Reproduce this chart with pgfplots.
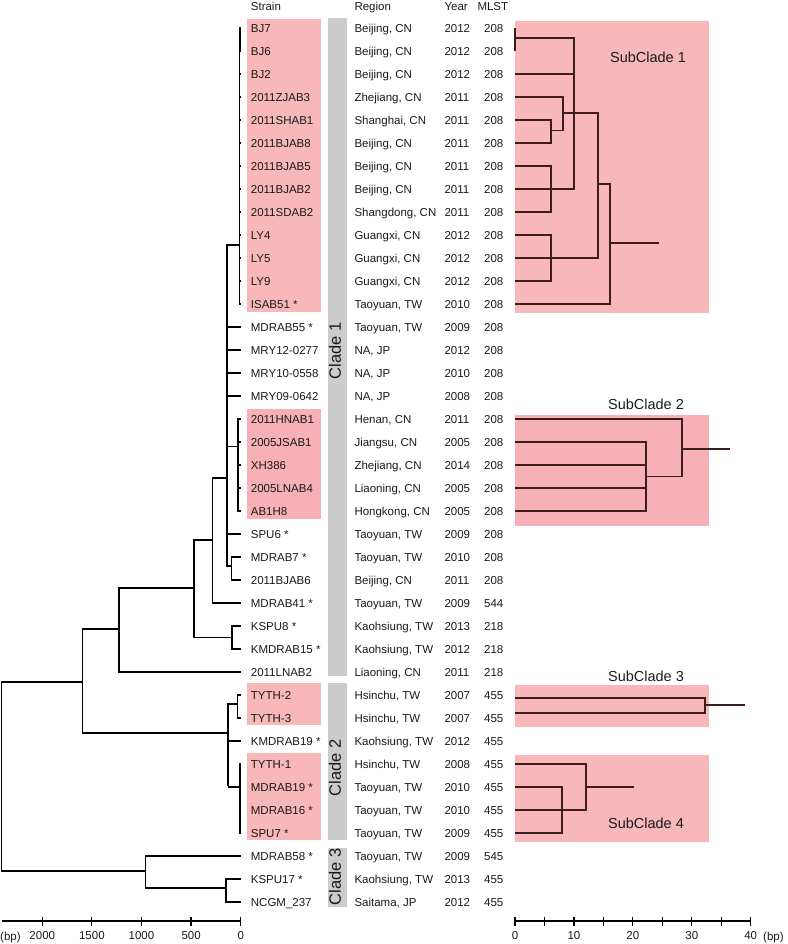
\documentclass[border=0pt]{standalone}
\usepackage{fontspec}
\setmainfont{Liberation Sans}
\usepackage{pgfplots}
\pgfplotsset{compat=1.18}
\definecolor{pinkc}{HTML}{F8B8BA}
\definecolor{pinkd}{HTML}{F6B0B6}
\definecolor{grayc}{HTML}{CCCCCC}
\definecolor{treec}{HTML}{3C1C1C}
\definecolor{txt}{HTML}{1A1A1A}
\pgfplotsset{
  tl/.style={line width=1.6pt, black, no marks, unbounded coords=jump},
  tr/.style={line width=1.8pt, treec, no marks, unbounded coords=jump},
  treeaxis/.style={scale only axis, height=916pt, ymin=-38.83, ymax=1,
    axis x line*=bottom, axis y line=none, tick align=center,
    major tick length=9pt, every tick/.style={black, line width=1.2pt},
    axis line style={line width=1.2pt, black}, clip=false,
    xticklabel style={font=\fontsize{11.5pt}{13pt}\selectfont, text=txt, inner sep=0pt, anchor=base, yshift=-14pt}},
}
\begin{document}
\fontsize{11.5pt}{13pt}\selectfont
\begin{tikzpicture}
\useasboundingbox (0,0) rectangle (787pt,-944pt);

% background boxes
\begin{axis}[at={(0pt,0pt)}, anchor=north west, scale only axis, width=787pt, height=944pt,
  xmin=0, xmax=787, ymin=-944, ymax=0, hide axis, clip=false]
% left highlight boxes
\addplot[fill=pinkc, draw=none] coordinates {(247.3,-19) (321,-19) (321,-311.7) (247.3,-311.7)} -- cycle;
\addplot[fill=pinkd, draw=none] coordinates {(247.3,-409) (321,-409) (321,-519) (247.3,-519)} -- cycle;
\addplot[fill=pinkc, draw=none] coordinates {(247.3,-683) (321,-683) (321,-725) (247.3,-725)} -- cycle;
\addplot[fill=pinkc, draw=none] coordinates {(247.3,-753) (321,-753) (321,-840) (247.3,-840)} -- cycle;
% clade bars
\addplot[fill=grayc, draw=none] coordinates {(327.7,-18.3) (346.7,-18.3) (346.7,-676) (327.7,-676)} -- cycle;
\addplot[fill=grayc, draw=none] coordinates {(327.7,-683) (346.7,-683) (346.7,-840) (327.7,-840)} -- cycle;
\addplot[fill=grayc, draw=none] coordinates {(327.7,-848) (346.7,-848) (346.7,-907) (327.7,-907)} -- cycle;
\end{axis}

% left tree (bp, reversed)
\begin{axis}[treeaxis, at={(121.2pt,-463pt)}, anchor=center, width=239pt,
  x dir=reverse, xmin=0, xmax=2409,
  xtick={0,500,1000,1500,2000}, xticklabels={0,500,1000,1500,2000}]
\addplot[tl] table {
x y
1593 -28.43
2409 -28.43
2409 -36.65
958 -36.65
nan nan
1227 -26.13
1593 -26.13
1593 -30.65
125 -30.65
nan nan
468 -24.35
1227 -24.35
1227 -28
0 -28
nan nan
286 -22.26
468 -22.26
468 -26.5
88 -26.5
nan nan
0 -26
88 -26
88 -27
0 -27
nan nan
138 -19.57
286 -19.57
286 -25
0 -25
nan nan
14 -9.43
138 -9.43
138 -23.4
91 -23.4
nan nan
0 -23
91 -23
91 -24
0 -24
nan nan
138 -13
0 -13
nan nan
138 -14
0 -14
nan nan
138 -15
0 -15
nan nan
138 -16
0 -16
nan nan
138 -22
0 -22
nan nan
138 -18.2
27 -18.2
nan nan
0 -17
27 -17
27 -21
0 -21
nan nan
27 -18
0 -18
nan nan
27 -19
0 -19
nan nan
27 -20
0 -20
nan nan
0 0
14 0
14 -12
0 -12
nan nan
14 -1
0 -1
nan nan
14 -2
0 -2
nan nan
14 -3
0 -3
nan nan
14 -4
0 -4
nan nan
14 -5
0 -5
nan nan
14 -6
0 -6
nan nan
14 -7
0 -7
nan nan
14 -8
0 -8
nan nan
14 -9
0 -9
nan nan
14 -10
0 -10
nan nan
14 -11
0 -11
nan nan
2 0
2 -1
nan nan
34 -29.39
125 -29.39
125 -32.96
nan nan
0 -29
34 -29
34 -30
0 -30
nan nan
125 -31
0 -31
nan nan
125 -33
7 -33
nan nan
0 -32
7 -32
7 -35
0 -35
nan nan
7 -33
0 -33
nan nan
7 -34
0 -34
nan nan
0 -36
958 -36
958 -37.39
148 -37.39
nan nan
0 -37
148 -37
148 -38
0 -38
};
\end{axis}

% right tree (bp)
\begin{axis}[treeaxis, at={(632.85pt,-463pt)}, anchor=center, width=235.7pt,
  xmin=0, xmax=40,
  xtick={0,5,...,40}, xticklabels={0,,10,,20,,30,,40}]
\addplot[fill=pinkc, draw=none] coordinates {(0,0.32) (32.9,0.32) (32.9,-12.38) (0,-12.38)} -- cycle;
\addplot[fill=pinkd, draw=none] coordinates {(0,-16.83) (32.9,-16.83) (32.9,-21.65) (0,-21.65)} -- cycle;
\addplot[fill=pinkc, draw=none] coordinates {(0,-28.57) (32.9,-28.57) (32.9,-30.38) (0,-30.38)} -- cycle;
\addplot[fill=pinkc, draw=none] coordinates {(0,-31.61) (32.9,-31.61) (32.9,-35.38) (0,-35.38)} -- cycle;
\addplot[tr] table {
x y
0 0
0 -1
nan nan
0 -0.45
10.07 -0.45
10.07 -7
0 -7
nan nan
0 -2
10.07 -2
nan nan
0 -3
8.09 -3
8.09 -4.46
6.05 -4.46
nan nan
0 -4
6.05 -4
6.05 -5
0 -5
nan nan
8.09 -3.71
14.14 -3.71
14.14 -10
0 -10
nan nan
0 -6
6.05 -6
6.05 -8
0 -8
nan nan
0 -9
6.05 -9
6.05 -11
0 -11
nan nan
14.14 -6.78
16.12 -6.78
16.12 -12
0 -12
nan nan
16.12 -9.36
24.49 -9.36
nan nan
0 -17
28.28 -17
28.28 -19.5
22.17 -19.5
nan nan
0 -18
22.17 -18
22.17 -21
0 -21
nan nan
0 -19
22.17 -19
nan nan
0 -20
22.17 -20
nan nan
28.28 -18.3
36.48 -18.3
nan nan
0 -29.12
32.24 -29.12
32.24 -29.77
0 -29.77
nan nan
32.24 -29.43
39.02 -29.43
nan nan
0 -32
12.05 -32
12.05 -34
0 -34
nan nan
0 -33
8.03 -33
8.03 -35
0 -35
nan nan
12.05 -33
20.25 -33
};
\end{axis}

% texts
\begin{scope}[every node/.style={inner sep=0pt, text=txt}]
\node[anchor=base west] at (250.7pt,-11pt) {Strain};
\node[anchor=base west] at (354.3pt,-11pt) {Region};
\node[anchor=base west] at (444.3pt,-11pt) {Year};
\node[anchor=base west] at (477.3pt,-11pt) {MLST};
\foreach \s [count=\i from 0] in {BJ7,BJ6,BJ2,2011ZJAB3,2011SHAB1,2011BJAB8,2011BJAB5,2011BJAB2,2011SDAB2,LY4,LY5,LY9,ISAB51 *,MDRAB55 *,MRY12-0277,MRY10-0558,MRY09-0642,2011HNAB1,2005JSAB1,XH386,2005LNAB4,AB1H8,SPU6 *,MDRAB7 *,2011BJAB6,MDRAB41 *,KSPU8 *,KMDRAB15 *,2011LNAB2,TYTH-2,TYTH-3,KMDRAB19 *,TYTH-1,MDRAB19 *,MDRAB16 *,SPU7 *,MDRAB58 *,KSPU17 *,NCGM\_237}
  \node[anchor=base west] at (250.7pt,{-(32.2+23*\i)*1pt}) {\s};
\foreach \s [count=\i from 0] in {{Beijing, CN},{Beijing, CN},{Beijing, CN},{Zhejiang, CN},{Shanghai, CN},{Beijing, CN},{Beijing, CN},{Beijing, CN},{Shangdong, CN},{Guangxi, CN},{Guangxi, CN},{Guangxi, CN},{Taoyuan, TW},{Taoyuan, TW},{NA, JP},{NA, JP},{NA, JP},{Henan, CN},{Jiangsu, CN},{Zhejiang, CN},{Liaoning, CN},{Hongkong, CN},{Taoyuan, TW},{Taoyuan, TW},{Beijing, CN},{Taoyuan, TW},{Kaohsiung, TW},{Kaohsiung, TW},{Liaoning, CN},{Hsinchu, TW},{Hsinchu, TW},{Kaohsiung, TW},{Hsinchu, TW},{Taoyuan, TW},{Taoyuan, TW},{Taoyuan, TW},{Taoyuan, TW},{Kaohsiung, TW},{Saitama, JP}}
  \node[anchor=base west] at (354.3pt,{-(32.2+23*\i)*1pt}) {\s};
\foreach \s [count=\i from 0] in {2012,2012,2012,2011,2011,2011,2011,2011,2011,2012,2012,2012,2010,2009,2012,2010,2008,2011,2005,2014,2005,2005,2009,2010,2011,2009,2013,2012,2011,2007,2007,2012,2008,2010,2010,2009,2009,2013,2012}
  \node[anchor=base west] at (444.3pt,{-(32.2+23*\i)*1pt}) {\s};
\foreach \s [count=\i from 0] in {208,208,208,208,208,208,208,208,208,208,208,208,208,208,208,208,208,208,208,208,208,208,208,208,208,544,218,218,218,455,455,455,455,455,455,455,545,455,455}
  \node[anchor=base west] at (484pt,{-(32.2+23*\i)*1pt}) {\s};
\node[anchor=base west] at (0pt,-940pt) {(bp)};
\node[anchor=base west] at (763pt,-940pt) {(bp)};
\node[rotate=90, font=\fontsize{16.5pt}{18pt}\selectfont] at (335pt,-351pt) {Clade 1};
\node[rotate=90, font=\fontsize{16.5pt}{18pt}\selectfont] at (335pt,-768pt) {Clade 2};
\node[rotate=90, font=\fontsize{16.5pt}{18pt}\selectfont] at (335pt,-877pt) {Clade 3};
\node[font=\fontsize{14.5pt}{16pt}\selectfont] at (648pt,-57pt) {SubClade 1};
\node[font=\fontsize{14.5pt}{16pt}\selectfont] at (646pt,-404pt) {SubClade 2};
\node[font=\fontsize{14.5pt}{16pt}\selectfont] at (646pt,-676pt) {SubClade 3};
\node[font=\fontsize{14.5pt}{16pt}\selectfont] at (646pt,-823pt) {SubClade 4};
\end{scope}
\end{tikzpicture}
\end{document}
